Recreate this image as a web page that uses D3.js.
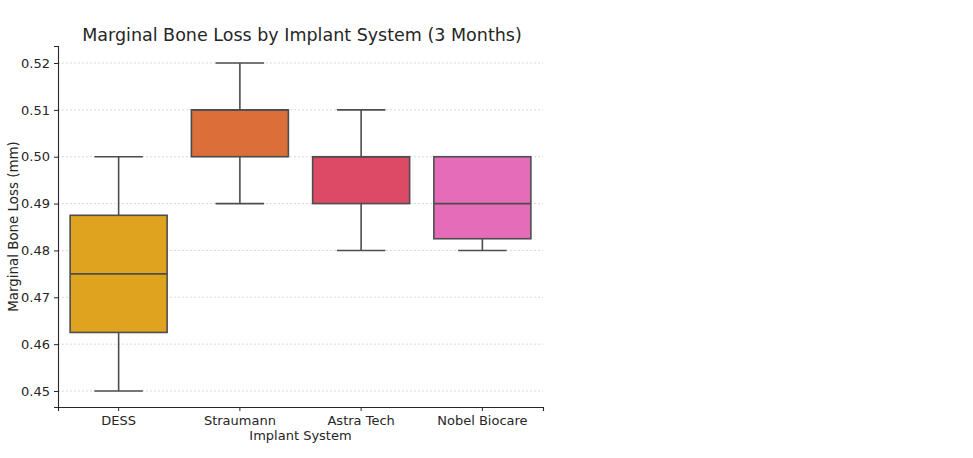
<!DOCTYPE html>
<html>
<head>
<meta charset="utf-8">
<script src="https://cdn.jsdelivr.net/npm/d3@7"></script>
<style>
  body { margin: 0; background: #fff; }
  text { font-family: "DejaVu Sans", sans-serif; fill: #262626; }
</style>
</head>
<body>
<script>
const w = 973;
const h = 458;

// data
const systems = ["DESS", "Straumann", "Astra Tech", "Nobel Biocare"];
const whiskerLow = [0.45, 0.49, 0.48, 0.48];
const q1 = [0.4625, 0.50, 0.49, 0.4825];
const median = [0.475, 0.51, 0.50, 0.49];
const q3 = [0.4875, 0.51, 0.50, 0.50];
const whiskerHigh = [0.50, 0.52, 0.51, 0.50];
const colors = ["#e0a320", "#da6f3a", "#dc4a66", "#e46cb8"];
const yTicks = [0.45, 0.46, 0.47, 0.48, 0.49, 0.50, 0.51, 0.52];

const plotLeft = 58, plotRight = 543, plotTop = 46, plotBottom = 407;

const svg = d3.select("body").append("svg")
  .attr("width", w)
  .attr("height", h);

const x = d3.scaleBand()
  .domain(systems)
  .range([plotLeft, plotRight]);

const y = d3.scaleLinear()
  .domain([0.44659, 0.52363])
  .range([plotBottom, plotTop]);

// grid lines
svg.append("g")
  .selectAll("line")
  .data(yTicks)
  .enter()
  .append("line")
  .attr("x1", plotLeft)
  .attr("x2", plotRight)
  .attr("y1", d => y(d))
  .attr("y2", d => y(d))
  .attr("stroke", "#cfcfcf")
  .attr("stroke-width", 0.8)
  .attr("stroke-dasharray", "2,2");

// boxes
const boxW = x.bandwidth() * 0.8;
const capW = boxW / 2;
const edge = "#4d4d4d";
const cx = d => x(d) + x.bandwidth() / 2;

const boxes = svg.append("g")
  .selectAll("g")
  .data(systems)
  .enter()
  .append("g");

// whiskers
boxes.append("line")
  .attr("x1", cx)
  .attr("x2", cx)
  .attr("y1", (d, i) => y(whiskerLow[i]))
  .attr("y2", (d, i) => y(q1[i]))
  .attr("stroke", edge)
  .attr("stroke-width", 1.6);

boxes.append("line")
  .attr("x1", cx)
  .attr("x2", cx)
  .attr("y1", (d, i) => y(q3[i]))
  .attr("y2", (d, i) => y(whiskerHigh[i]))
  .attr("stroke", edge)
  .attr("stroke-width", 1.6);

// caps
[whiskerLow, whiskerHigh].forEach(arr => {
  boxes.append("line")
    .attr("x1", d => cx(d) - capW / 2)
    .attr("x2", d => cx(d) + capW / 2)
    .attr("y1", (d, i) => y(arr[i]))
    .attr("y2", (d, i) => y(arr[i]))
    .attr("stroke", edge)
    .attr("stroke-width", 1.6);
});

boxes.append("rect")
  .attr("x", d => cx(d) - boxW / 2)
  .attr("width", boxW)
  .attr("y", (d, i) => y(q3[i]))
  .attr("height", (d, i) => y(q1[i]) - y(q3[i]))
  .attr("fill", (d, i) => colors[i])
  .attr("stroke", edge)
  .attr("stroke-width", 1.6);

boxes.append("line")
  .attr("x1", d => cx(d) - boxW / 2)
  .attr("x2", d => cx(d) + boxW / 2)
  .attr("y1", (d, i) => y(median[i]))
  .attr("y2", (d, i) => y(median[i]))
  .attr("stroke", edge)
  .attr("stroke-width", 1.6);

// axes
const xAxis = svg.append("g")
  .attr("transform", "translate(0," + plotBottom + ")")
  .call(d3.axisBottom(x).tickSizeOuter(0).tickSize(4).tickPadding(5));

const yAxis = svg.append("g")
  .attr("transform", "translate(" + plotLeft + ",0)")
  .call(d3.axisLeft(y).tickValues(yTicks).tickFormat(d3.format(".2f"))
    .tickSizeOuter(0).tickSize(4).tickPadding(4));

[xAxis, yAxis].forEach(a => {
  a.select(".domain").attr("stroke", "#262626").attr("stroke-width", 1.1);
  a.selectAll(".tick line").attr("stroke", "#262626").attr("stroke-width", 1);
  a.selectAll("text")
    .style("font-family", "DejaVu Sans, sans-serif")
    .style("font-size", "13px")
    .attr("fill", "#262626");
});

// title
svg.append("text")
  .attr("x", 302)
  .attr("y", 41)
  .attr("text-anchor", "middle")
  .style("font-size", "17.5px")
  .text("Marginal Bone Loss by Implant System (3 Months)");

// axis labels
svg.append("text")
  .attr("x", (plotLeft + plotRight) / 2)
  .attr("y", 440)
  .attr("text-anchor", "middle")
  .style("font-size", "13px")
  .text("Implant System");

svg.append("text")
  .attr("transform", "translate(18," + (plotTop + plotBottom) / 2 + ") rotate(-90)")
  .attr("text-anchor", "middle")
  .style("font-size", "13.4px")
  .text("Marginal Bone Loss (mm)");
</script>
</body>
</html>
